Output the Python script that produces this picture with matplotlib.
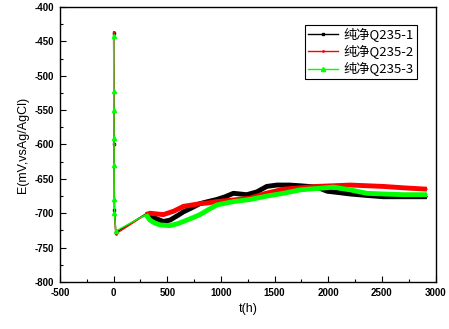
import matplotlib
matplotlib.use("Agg")
import matplotlib.pyplot as plt
import numpy as np
from matplotlib.lines import Line2D

plt.rcParams["axes.unicode_minus"] = False

# open-circuit potential vs immersion time, three specimens
t_1 = [0, 3, 8, 20, 300, 340, 400, 463, 525, 600, 650, 730, 805, 880, 961, 1040,
       1116, 1240, 1334, 1427, 1520, 1640, 1738, 1894, 1990, 2100, 2204, 2350,
       2515, 2700, 2920]
e_1 = [-438, -600, -695, -728, -701, -704, -708, -712, -710, -703, -698, -692,
       -686, -683, -680, -676, -671, -673, -669, -661, -659, -659, -660, -662,
       -668, -670, -672, -674, -676, -676, -676]

t_2 = [0, 3, 8, 20, 300, 340, 400, 463, 560, 650, 730, 805, 880, 961, 1100,
       1271, 1420, 1583, 1740, 1894, 2050, 2204, 2360, 2515, 2700, 2920]
e_2 = [-436, -600, -700, -730, -702, -700, -701, -702, -697, -690, -688, -686,
       -685, -683, -681, -678, -671, -665, -663, -661, -660, -659, -660, -661,
       -663, -665]

t_3 = [0, 1, 2, 3, 4, 5, 8, 20, 300, 339, 380, 432, 525, 600, 650, 730, 805,
       880, 961, 1116, 1271, 1427, 1583, 1738, 1894, 2049, 2204, 2360, 2515,
       2700, 2920]
e_3 = [-442, -522, -550, -590, -630, -680, -700, -726, -702, -710, -714, -717,
       -718, -715, -712, -707, -702, -695, -688, -683, -680, -675, -671, -666,
       -664, -662, -666, -671, -672, -673, -673]

labels = ["纯净Q235-1", "纯净Q235-2", "纯净Q235-3"]
colors = ["black", "red", "#00ff00"]
markers = ["s", ".", "^"]
msizes = [1.5, 2.0, 3.0]
series = [(t_1, e_1), (t_2, e_2), (t_3, e_3)]

fig = plt.figure(figsize=(4.49, 3.29), dpi=100)
ax = fig.add_axes([0.1336, 0.1429, 0.8364, 0.8358])

for (t, e), c, m, ms in zip(series, colors, markers, msizes):
    t = np.array(t)
    e = np.array(e)
    early = np.nonzero(t < 300)[0]
    ax.plot(t, e, color=c, lw=1.0, marker=m, ms=ms, mec=c, mfc=c,
            markevery=list(early))
    band = t >= 300
    ax.plot(t[band], e[band], color=c, lw=3.5, solid_capstyle="butt")

ax.set_xlim(-500, 3000)
ax.set_ylim(-800, -400)
ax.set_xticks(np.arange(-500, 3001, 500))
ax.set_yticks(np.arange(-800, -399, 50))
ax.set_xticks(np.arange(-250, 3000, 500), minor=True)
ax.set_yticks(np.arange(-775, -400, 50), minor=True)
ax.tick_params(which="both", direction="in", top=False, right=False)
ax.tick_params(which="major", length=4, width=0.8, pad=4)
ax.tick_params(which="minor", length=2, width=0.8)
for lab in ax.get_xticklabels() + ax.get_yticklabels():
    lab.set_fontfamily("Liberation Sans")
    lab.set_fontweight("bold")
    lab.set_fontsize(7)
for s in ax.spines.values():
    s.set_linewidth(1.0)

ax.set_xlabel("t(h)", fontsize=9, family="Liberation Sans", labelpad=4)
ax.set_ylabel("E(mV,vsAg/AgCl)", fontsize=9, family="Liberation Sans", labelpad=4)

handles = [Line2D([], [], color=c, lw=1.0, marker=m, ms=ms)
           for c, m, ms in zip(colors, markers, msizes)]
leg = ax.legend(handles, labels, loc="upper right", bbox_to_anchor=(0.95, 0.9345),
                borderaxespad=0,
                prop={"family": ["Noto Sans CJK SC", "DejaVu Sans"], "size": 9.5},
                frameon=True, fancybox=False, edgecolor="black", framealpha=1,
                handlelength=2.3, handletextpad=0.45, borderpad=0.2,
                labelspacing=0.25)
leg.get_frame().set_linewidth(0.8)

fig.savefig("out.png", dpi=100)
